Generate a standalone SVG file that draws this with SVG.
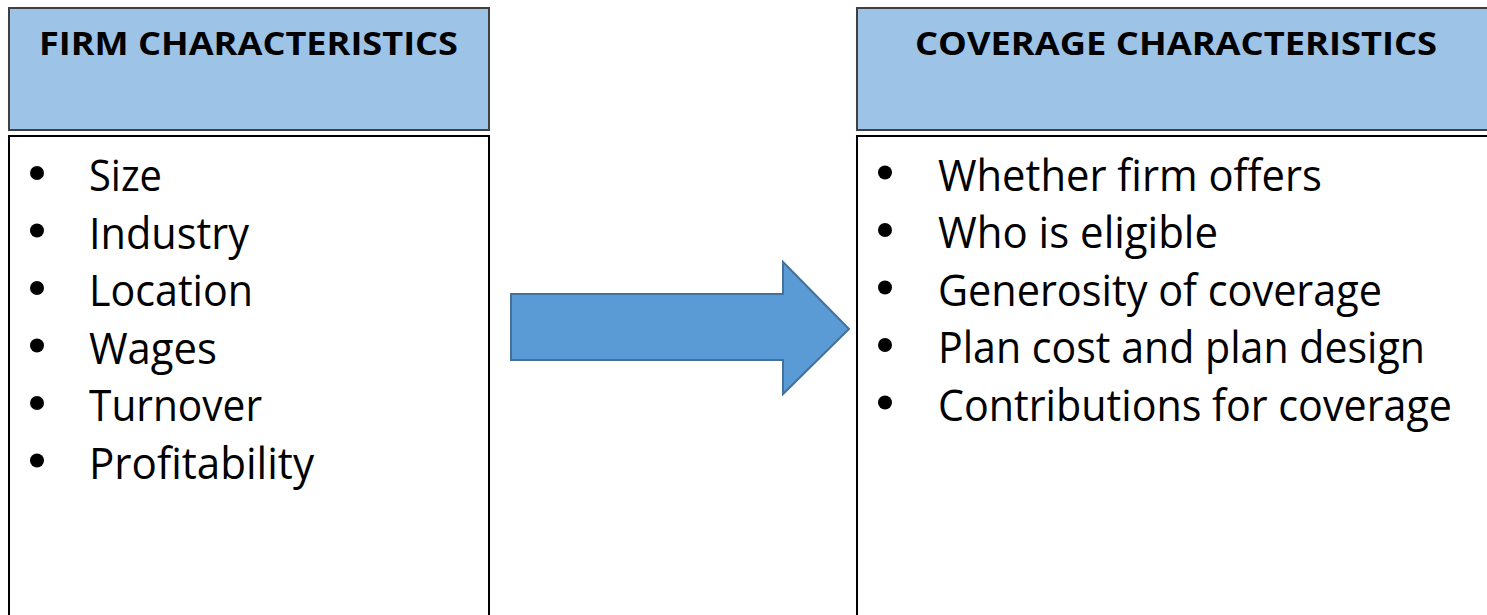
<svg xmlns="http://www.w3.org/2000/svg" width="1487" height="615" viewBox="0 0 1487 615">
  <style>
    .head { fill: #9DC3E6; stroke: #404040; stroke-width: 2; }
    .body { fill: #FFFFFF; stroke: #000000; stroke-width: 2; }
    .title { font-family: "Open Sans", "Liberation Sans", sans-serif; font-weight: bold; font-size: 32px; fill: #000000; }
    .item { font-family: "Open Sans", "Liberation Sans", sans-serif; font-size: 43px; fill: #000000; }
    .dot { fill: #000000; }
    .flow { fill: #5B9BD5; stroke: #41719C; stroke-width: 2; stroke-linejoin: miter; }
  </style>
  <rect width="1487" height="615" fill="#FFFFFF"/>

  <!-- left column: firm characteristics -->
  <g id="firm-characteristics">
    <rect class="head" x="9" y="8" width="480" height="122"/>
    <text class="title" x="39" y="55" textLength="419" lengthAdjust="spacingAndGlyphs">FIRM CHARACTERISTICS</text>
    <rect class="body" x="9" y="136" width="480" height="500"/>
    <g class="dot">
      <circle cx="37" cy="173" r="7"/>
      <circle cx="37" cy="230.5" r="7"/>
      <circle cx="37" cy="288" r="7"/>
      <circle cx="37" cy="345.5" r="7"/>
      <circle cx="37" cy="403" r="7"/>
      <circle cx="37" cy="460.5" r="7"/>
    </g>
    <text class="item" x="89" y="191" textLength="73" lengthAdjust="spacingAndGlyphs">Size</text>
    <text class="item" x="89" y="248.5" textLength="160" lengthAdjust="spacingAndGlyphs">Industry</text>
    <text class="item" x="89" y="306" textLength="164" lengthAdjust="spacingAndGlyphs">Location</text>
    <text class="item" x="89" y="363.5" textLength="128" lengthAdjust="spacingAndGlyphs">Wages</text>
    <text class="item" x="89" y="421" textLength="173" lengthAdjust="spacingAndGlyphs">Turnover</text>
    <text class="item" x="89" y="478.5" textLength="225" lengthAdjust="spacingAndGlyphs">Profitability</text>
  </g>

  <!-- right column: coverage characteristics -->
  <g id="coverage-characteristics">
    <rect class="head" x="857" y="8" width="700" height="122"/>
    <text class="title" x="915" y="55" textLength="522" lengthAdjust="spacingAndGlyphs">COVERAGE CHARACTERISTICS</text>
    <rect class="body" x="857" y="136" width="700" height="500"/>
    <g class="dot">
      <circle cx="885" cy="172.5" r="7"/>
      <circle cx="885" cy="230" r="7"/>
      <circle cx="885" cy="287.5" r="7"/>
      <circle cx="885" cy="345" r="7"/>
      <circle cx="885" cy="402.5" r="7"/>
    </g>
    <text class="item" x="938" y="190.5" textLength="384" lengthAdjust="spacingAndGlyphs">Whether firm offers</text>
    <text class="item" x="938" y="248" textLength="280" lengthAdjust="spacingAndGlyphs">Who is eligible</text>
    <text class="item" x="938" y="305.5" textLength="444" lengthAdjust="spacingAndGlyphs">Generosity of coverage</text>
    <text class="item" x="938" y="363" textLength="487" lengthAdjust="spacingAndGlyphs">Plan cost and plan design</text>
    <text class="item" x="938" y="420.5" textLength="514" lengthAdjust="spacingAndGlyphs">Contributions for coverage</text>
  </g>

  <!-- connector: block arrow from firm to coverage -->
  <g id="connectors">
    <polygon id="firm-to-coverage" class="flow" points="511,294 783,294 783,262 849,329 783,394 783,360 511,360"/>
  </g>
</svg>
